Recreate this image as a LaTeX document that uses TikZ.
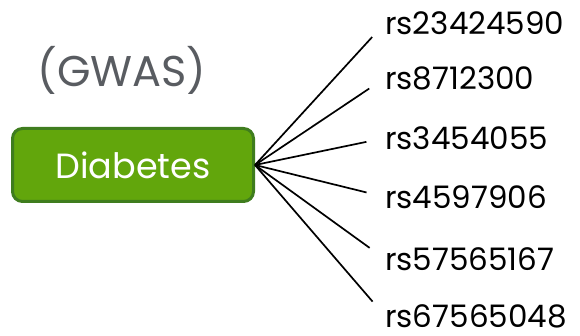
\documentclass[tikz,border=0pt]{standalone}
\usepackage{fontspec}
\setmainfont{Poppins}
\definecolor{gwasgray}{HTML}{595C61}
\definecolor{boxfill}{HTML}{62A60C}
\definecolor{boxline}{HTML}{3F7D1E}
\tikzset{
  snplabel/.style={anchor=west, inner sep=0pt, font=\fontsize{31}{35}\selectfont},
}
\begin{document}
\begin{tikzpicture}[x=1pt,y=-1pt]
            \useasboundingbox (0,0) rectangle (580,336);
            \node[draw=boxline, line width=3pt, fill=boxfill, rounded corners=10pt,
                  minimum width=241pt, minimum height=73pt, text=white,
                  font=\fontsize{35}{38}\selectfont] (diabetes) at (133,165) {Diabetes};
            \node[text=gwasgray, font=\fontsize{43}{46}\selectfont] (gwas) at (122,70) {(GWAS)};
            \node[snplabel] (snp1) at (385,23) {rs23424590};
            \node[snplabel] (snp2) at (385,78) {rs8712300};
            \node[snplabel] (snp3) at (385,138) {rs3454055};
            \node[snplabel] (snp4) at (385,197) {rs4597906};
            \node[snplabel] (snp5) at (385,259) {rs57565167};
            \node[snplabel] (snp6) at (385,316) {rs67565048};
            \draw[line width=1.7pt, shorten >=19pt] (diabetes.east) -- (snp1.west);
            \draw[line width=1.7pt, shorten >=19pt] (diabetes.east) -- (snp2.west);
            \draw[line width=1.7pt, shorten >=19pt] (diabetes.east) -- (snp3.west);
            \draw[line width=1.7pt, shorten >=19pt] (diabetes.east) -- (snp4.west);
            \draw[line width=1.7pt, shorten >=19pt] (diabetes.east) -- (snp5.west);
            \draw[line width=1.7pt, shorten >=19pt] (diabetes.east) -- (snp6.west);
\end{tikzpicture}
\end{document}
